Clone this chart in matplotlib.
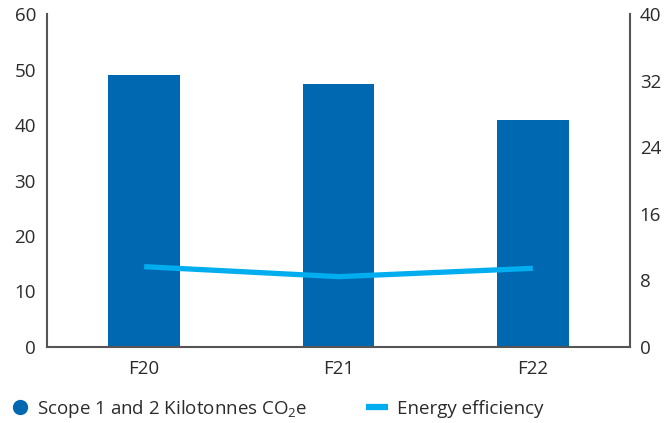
import matplotlib
matplotlib.use("Agg")
import matplotlib.pyplot as plt
from matplotlib.lines import Line2D

plt.rcParams['font.family'] = ['Open Sans', 'DejaVu Sans']
plt.rcParams['mathtext.fontset'] = 'custom'
plt.rcParams['mathtext.rm'] = 'Open Sans'
plt.rcParams['mathtext.it'] = 'Open Sans'

categories = ["F20", "F21", "F22"]
scope_emissions = [49.0, 47.4, 40.9]
energy_efficiency = [9.65, 8.45, 9.45]
left_ticks = [0, 10, 20, 30, 40, 50, 60]
right_ticks = [0, 8, 16, 24, 32, 40]

bar_color = "#0067B1"
line_color = "#00AEEF"
spine_color = "#555555"
text_color = "#2b2b2b"
fs = 13.5

fig = plt.figure(figsize=(6.65, 4.23), dpi=100)
ax = fig.add_axes([47/665, 1 - 347/423, (630-47)/665, (347-14)/423])
x = list(range(len(categories)))
ax.bar(x, scope_emissions, width=0.37, color=bar_color, zorder=2)
ax.set_xlim(-0.5, 2.5)
ax.set_ylim(0, 60)
ax.set_yticks(left_ticks)
ax.set_xticks(x)
ax.set_xticklabels(categories)
ax.tick_params(axis='both', length=0, labelsize=fs, colors=text_color)
ax.tick_params(axis='y', pad=8)
ax.tick_params(axis='x', pad=9)
for s in ['top', 'right']:
    ax.spines[s].set_visible(False)
for s in ['left', 'bottom']:
    ax.spines[s].set_color(spine_color)
    ax.spines[s].set_linewidth(1.5)

ax2 = ax.twinx()
ax2.plot(x, energy_efficiency, color=line_color, linewidth=3.8, zorder=3, solid_capstyle='butt')
ax2.set_ylim(0, 40)
ax2.set_yticks(right_ticks)
ax2.tick_params(axis='y', length=0, labelsize=fs, colors=text_color, pad=7)
for s in ['top', 'left', 'bottom']:
    ax2.spines[s].set_visible(False)
ax2.spines['right'].set_color(spine_color)
ax2.spines['right'].set_linewidth(1.5)

fs_px = fs * 100 / 72
h1 = Line2D([], [], marker='o', linestyle='none', color=bar_color, markersize=10)
h2 = Line2D([], [], color=line_color, linewidth=4.5, solid_capstyle='butt')
y_leg = 1 - 409/423
leg1 = fig.legend([h1], ["Scope 1 and 2 Kilotonnes CO$_\\mathrm{2}$e"], loc='center left',
                  bbox_to_anchor=(11/665, y_leg), frameon=False, fontsize=fs,
                  handlelength=17.5/fs_px, handletextpad=8.5/fs_px, labelcolor=text_color,
                  borderpad=0, borderaxespad=0)
leg2 = fig.legend([h2], ["Energy efficiency"], loc='center left',
                  bbox_to_anchor=(366/665, y_leg), frameon=False, fontsize=fs,
                  handlelength=22/fs_px, handletextpad=9/fs_px, labelcolor=text_color,
                  borderpad=0, borderaxespad=0)

fig.savefig("out.png", dpi=100)
